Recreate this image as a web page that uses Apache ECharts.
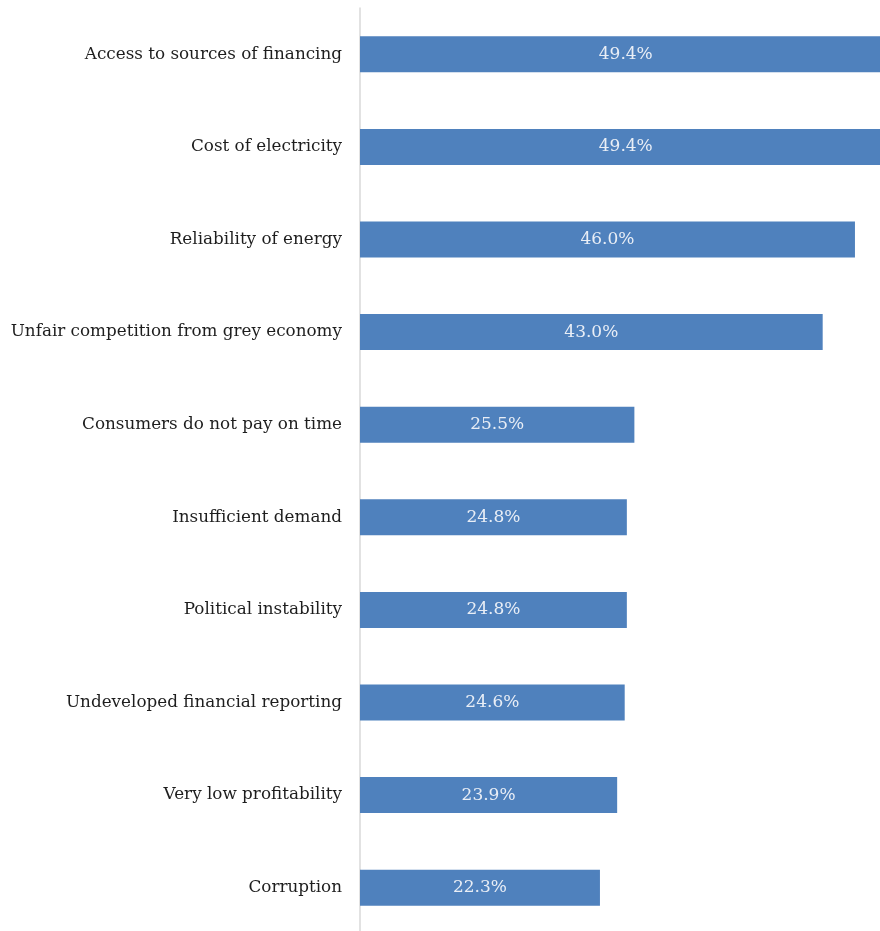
<!DOCTYPE html>
<html>
<head>
<meta charset="utf-8">
<script src="https://cdn.jsdelivr.net/npm/echarts@6/dist/echarts.min.js"></script>
<style>
html,body{margin:0;padding:0;background:#fff;}
#chart{width:880px;height:931px;}
</style>
</head>
<body>
<div id="chart"></div>
<script>
// Obstacles reported by firms, share of respondents (%)
const categories = [
  'Access to sources of financing',
  'Cost of electricity',
  'Reliability of energy',
  'Unfair competition from grey economy',
  'Consumers do not pay on time',
  'Insufficient demand',
  'Political instability',
  'Undeveloped financial reporting',
  'Very low profitability',
  'Corruption'
];
const values = [49.4, 49.4, 46.0, 43.0, 25.5, 24.8, 24.8, 24.6, 23.9, 22.3];

const chart = echarts.init(document.getElementById('chart'));
chart.setOption({
  animation: false,
  grid: {
    left: 360, top: 8, width: 538, height: 926,
    containLabel: false, outerBoundsMode: 'none'
  },
  xAxis: {
    type: 'value', min: 0, max: 50, show: false
  },
  yAxis: {
    type: 'category',
    data: categories,
    inverse: true,
    axisLine: { show: true, lineStyle: { color: '#d9d9d9', width: 1.5 } },
    axisTick: { show: false },
    axisLabel: {
      margin: 18,
      color: '#1e1e1e',
      fontFamily: 'DejaVu Serif',
      fontSize: 16.8
    }
  },
  series: [{
    type: 'bar',
    data: values,
    barWidth: 36,
    clip: false,
    itemStyle: { color: '#4f81bd' },
    label: {
      show: true,
      position: 'inside',
      color: '#e9eef6',
      fontFamily: 'DejaVu Serif',
      fontSize: 17,
      formatter: p => p.value.toFixed(1) + '%'
    }
  }]
});
</script>
</body>
</html>
